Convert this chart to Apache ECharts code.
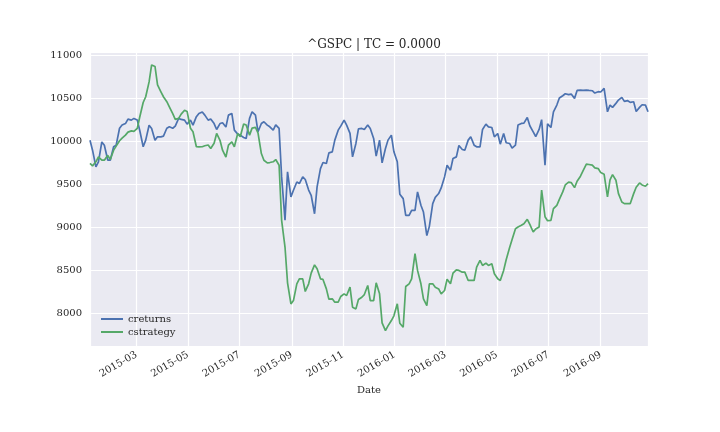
<!DOCTYPE html>
<html>
	<head>
		<meta charset="utf-8">
		<title>^GSPC | TC = 0.0000</title>
		<script src="https://cdn.jsdelivr.net/npm/echarts@6/dist/echarts.min.js"></script>
		<style>
			html, body { margin: 0; padding: 0; background: #fff; }
			#chart { width: 720px; height: 432px; }
		</style>
	</head>
	<body>
		<div id="chart"></div>
		<script>
			// readings twice a week (Mon / Thu), a few spike days added
			const dates = [
				'2015-01-05','2015-01-08','2015-01-12','2015-01-15','2015-01-19','2015-01-22','2015-01-26','2015-01-29',
				'2015-02-02','2015-02-05','2015-02-09','2015-02-12','2015-02-16','2015-02-19','2015-02-23','2015-02-26',
				'2015-03-02','2015-03-05','2015-03-09','2015-03-12','2015-03-16','2015-03-19','2015-03-23','2015-03-26',
				'2015-03-30','2015-04-02','2015-04-06','2015-04-09','2015-04-13','2015-04-16','2015-04-20','2015-04-23',
				'2015-04-27','2015-04-30','2015-05-04','2015-05-07','2015-05-11','2015-05-14','2015-05-18','2015-05-21',
				'2015-05-25','2015-05-28','2015-06-01','2015-06-04','2015-06-08','2015-06-11','2015-06-15','2015-06-18',
				'2015-06-22','2015-06-25','2015-06-29','2015-07-02','2015-07-06','2015-07-09','2015-07-13','2015-07-16',
				'2015-07-20','2015-07-23','2015-07-27','2015-07-30','2015-08-03','2015-08-06','2015-08-10','2015-08-13',
				'2015-08-17','2015-08-20','2015-08-24','2015-08-27','2015-08-31','2015-09-03','2015-09-07','2015-09-10',
				'2015-09-14','2015-09-17','2015-09-21','2015-09-24','2015-09-28','2015-10-01','2015-10-05','2015-10-08',
				'2015-10-12','2015-10-15','2015-10-19','2015-10-22','2015-10-26','2015-10-29','2015-11-02','2015-11-05',
				'2015-11-09','2015-11-12','2015-11-16','2015-11-19','2015-11-23','2015-11-26','2015-11-30','2015-12-03',
				'2015-12-07','2015-12-10','2015-12-14','2015-12-17','2015-12-21','2015-12-24','2015-12-28','2015-12-31',
				'2016-01-04','2016-01-07','2016-01-11','2016-01-14','2016-01-18','2016-01-21','2016-01-25','2016-01-28',
				'2016-02-01','2016-02-04','2016-02-08','2016-02-11','2016-02-15','2016-02-18','2016-02-22','2016-02-25',
				'2016-02-29','2016-03-03','2016-03-07','2016-03-10','2016-03-14','2016-03-17','2016-03-21','2016-03-24',
				'2016-03-28','2016-03-31','2016-04-04','2016-04-07','2016-04-11','2016-04-14','2016-04-18','2016-04-21',
				'2016-04-25','2016-04-28','2016-05-02','2016-05-05','2016-05-09','2016-05-12','2016-05-16','2016-05-19',
				'2016-05-23','2016-05-26','2016-05-30','2016-06-02','2016-06-06','2016-06-09','2016-06-13','2016-06-16',
				'2016-06-20','2016-06-23','2016-06-27','2016-06-30','2016-07-04','2016-07-07','2016-07-11','2016-07-14',
				'2016-07-18','2016-07-21','2016-07-25','2016-07-28','2016-08-01','2016-08-04','2016-08-08','2016-08-11',
				'2016-08-15','2016-08-18','2016-08-22','2016-08-25','2016-08-29','2016-09-01','2016-09-05','2016-09-09',
				'2016-09-12','2016-09-15','2016-09-19','2016-09-22','2016-09-26','2016-09-29','2016-10-03','2016-10-06',
				'2016-10-10','2016-10-13','2016-10-17','2016-10-20','2016-10-24','2016-10-27'
			];
			const creturns = [
				10010, 9895, 9700, 9759, 9990, 9953, 9780, 9778,
				9935, 9953, 10150, 10187, 10205, 10257, 10245, 10265,
				10245, 10121, 9935, 10012, 10185, 10148, 10010, 10050,
				10050, 10058, 10150, 10167, 10150, 10175, 10265, 10253,
				10245, 10198, 10245, 10187, 10285, 10323, 10340, 10303,
				10245, 10257, 10205, 10136, 10205, 10214, 10165, 10303,
				10323, 10128, 10082, 10070, 10043, 10031, 10265, 10342,
				10303, 10109, 10206, 10226, 10187, 10167, 10128, 10190,
				10148, 9584, 9080, 9642, 9350, 9428, 9525, 9506,
				9585, 9553, 9430, 9370, 9155, 9467, 9680, 9751,
				9740, 9864, 9875, 10012, 10128, 10175, 10245, 10187,
				10090, 9817, 9973, 10144, 10148, 10136, 10187, 10148,
				10031, 9825, 10012, 9747, 9914, 10012, 10070, 9876,
				9759, 9382, 9331, 9136, 9136, 9195, 9195, 9409,
				9253, 9175, 8900, 9008, 9273, 9346, 9390, 9455,
				9584, 9720, 9662, 9798, 9817, 9949, 9903, 9895,
				10012, 10051, 9953, 9934, 9934, 10136, 10198, 10167,
				10159, 10051, 10089, 9965, 10089, 9981, 9973, 9918,
				9953, 10187, 10206, 10210, 10276, 10179, 10109, 10054,
				10136, 10250, 9720, 10202, 10159, 10342, 10420, 10502,
				10529, 10552, 10541, 10548, 10498, 10591, 10595, 10591,
				10595, 10591, 10587, 10560, 10576, 10572, 10615, 10342,
				10420, 10393, 10440, 10478, 10510, 10463, 10471, 10451,
				10459, 10346, 10393, 10424, 10420, 10342
			];
			const cstrategy = [
				9740, 9712, 9760, 9817, 9780, 9778, 9835, 9786,
				9895, 9942, 10005, 10035, 10070, 10105, 10120, 10113,
				10150, 10284, 10450, 10517, 10690, 10887, 10870, 10654,
				10575, 10517, 10460, 10400, 10320, 10253, 10265, 10315,
				10360, 10346, 10150, 10109, 9935, 9934, 9935, 9946,
				9955, 9914, 9975, 10090, 10010, 9895, 9815, 9953,
				9992, 9934, 10090, 10051, 10200, 10187, 10070, 10152,
				10160, 10097, 9856, 9778, 9747, 9751, 9760, 9786,
				9720, 9078, 8767, 8351, 8105, 8144, 8339, 8397,
				8397, 8250, 8339, 8463, 8560, 8514, 8397, 8390,
				8280, 8160, 8164, 8125, 8125, 8191, 8222, 8203,
				8300, 8067, 8047, 8156, 8183, 8214, 8320, 8144,
				8144, 8351, 8222, 7884, 7794, 7849, 7911, 7966,
				8106, 7880, 7833, 8308, 8339, 8397, 8690, 8495,
				8339, 8164, 8086, 8339, 8339, 8300, 8280, 8222,
				8261, 8393, 8339, 8463, 8502, 8495, 8475, 8475,
				8378, 8378, 8378, 8533, 8611, 8553, 8580, 8553,
				8572, 8456, 8397, 8378, 8495, 8619, 8760, 8856,
				8981, 9000, 9020, 9039, 9090, 9031, 8942, 8977,
				9000, 9430, 9120, 9074, 9078, 9214, 9253, 9323,
				9409, 9490, 9522, 9518, 9459, 9533, 9592, 9654,
				9732, 9728, 9720, 9689, 9681, 9634, 9615, 9350,
				9550, 9611, 9545, 9389, 9292, 9273, 9273, 9273,
				9389, 9463, 9514, 9490, 9475, 9506
			];

			const pair = arr => dates.map((d, i) => [d, arr[i]]);
			const pad = n => (n < 10 ? '0' : '') + n;
			const font = 'DejaVu Serif';
			const ink = '#262626';

			const chart = echarts.init(document.getElementById('chart'), null, { renderer: 'canvas' });
			const option = {
				backgroundColor: '#ffffff',
				animation: false,
				textStyle: { fontFamily: font },
				title: {
					text: '^GSPC | TC = 0.0000',
					left: 369,
					textAlign: 'center',
					top: 34,
					textStyle: { fontFamily: font, fontSize: 12, fontWeight: 'normal', color: ink }
				},
				grid: {
					left: 90, right: 72, top: 52, bottom: 86,
					show: true, backgroundColor: '#EAEAF2', borderWidth: 0
				},
				legend: {
					orient: 'vertical',
					left: 96,
					top: 309,
					itemWidth: 22,
					itemHeight: 2,
					itemGap: 3,
					icon: 'rect',
					textStyle: { fontFamily: font, fontSize: 10, color: ink },
					data: ['creturns', 'cstrategy']
				},
				xAxis: {
					type: 'time',
					min: '2015-01-05',
					max: '2016-10-27',
					name: 'Date',
					nameLocation: 'middle',
					nameGap: 39,
					nameTextStyle: { fontFamily: font, fontSize: 10, color: ink },
					splitNumber: 10,
					minInterval: 59 * 86400000,
					maxInterval: 62 * 86400000,
					axisLine: { show: false },
					axisTick: { show: false },
					splitLine: { show: true, lineStyle: { color: '#ffffff', width: 1.2 } },
					axisLabel: {
						rotate: 30,
						margin: 8,
						showMinLabel: false,
						showMaxLabel: false,
						fontFamily: font,
						fontSize: 10,
						color: ink,
						formatter: v => {
							const d = new Date(v);
							return d.getFullYear() + '-' + pad(d.getMonth() + 1);
						}
					}
				},
				yAxis: {
					type: 'value',
					min: 7615,
					max: 11038,
					splitNumber: 7,
					axisLine: { show: false },
					axisTick: { show: false },
					splitLine: { show: true, lineStyle: { color: '#ffffff', width: 1.2 } },
					axisLabel: {
						margin: 8,
						showMinLabel: false,
						showMaxLabel: false,
						fontFamily: font,
						fontSize: 10,
						color: ink,
						formatter: v => String(v)
					}
				},
				series: [
					{
						name: 'creturns',
						type: 'line',
						data: pair(creturns),
						showSymbol: false,
						symbol: 'none',
						color: '#4C72B0',
						lineStyle: { width: 1.7, color: '#4C72B0' }
					},
					{
						name: 'cstrategy',
						type: 'line',
						data: pair(cstrategy),
						showSymbol: false,
						symbol: 'none',
						color: '#55A868',
						lineStyle: { width: 1.7, color: '#55A868' }
					}
				]
			};
			chart.setOption(option);
		</script>
	</body>
</html>
